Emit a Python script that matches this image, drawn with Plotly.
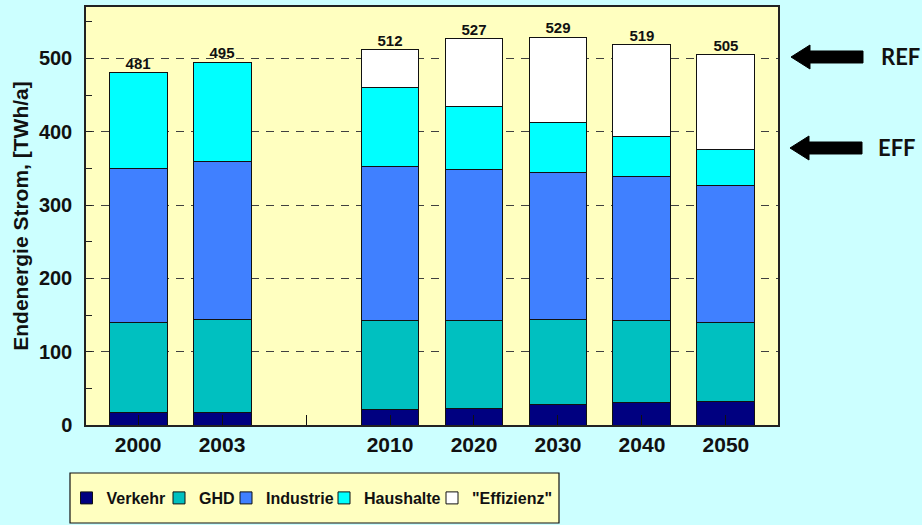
import plotly.graph_objects as go

categories = ["2000", "2003", " ", "2010", "2020", "2030", "2040", "2050"]
verkehr   = [17.0, 17.0, None, 20.5, 23.0, 28.5, 30.5, 32.5]
ghd       = [122.5, 127.5, None, 122.0, 119.0, 115.5, 112.0, 107.5]
industrie = [210.5, 214.5, None, 209.5, 206.0, 200.5, 197.0, 187.0]
haushalte = [131.0, 136.0, None, 108.5, 87.0, 68.5, 54.5, 49.0]
effizienz = [0.0, 0.0, None, 51.5, 92.0, 116.0, 125.0, 129.0]
totals    = [481, 495, None, 512, 527, 529, 519, 505]

series = [
    ("Verkehr", verkehr, "#000080"),
    ("GHD", ghd, "#00c0c0"),
    ("Industrie", industrie, "#4080ff"),
    ("Haushalte", haushalte, "#00ffff"),
    ('"Effizienz"', effizienz, "#ffffff"),
]
# legend symbol centres (pixels) for each series entry
legend_px = [86.5, 179, 246, 344, 452]

W, H = 922, 525
L, R, T, B = 86, 778, 7, 425
FONT = "Liberation Sans, Arial, sans-serif"


def px(x):
    return (x - L) / (R - L)


def py(y):
    return (B - y) / (B - T)


fig = go.Figure()
legend_layouts = {}
for i, (name, vals, col) in enumerate(series):
    lid = "legend" if i == 0 else f"legend{i + 1}"
    fig.add_trace(go.Bar(
        x=categories, y=vals, name=name, width=0.69, legend=lid,
        marker=dict(color=col, line=dict(color="#111111", width=1)),
    ))
    legend_layouts[lid] = dict(
        orientation="h", x=px(legend_px[i] - 20), xanchor="left",
        y=py(498), yanchor="middle",
        bgcolor="rgba(0,0,0,0)", borderwidth=0,
        font=dict(family=FONT, size=16, color="#111111", weight="bold"),
    )

fig.add_trace(go.Scatter(
    x=categories, y=totals, mode="text",
    text=[str(t) if t is not None else "" for t in totals],
    textposition="top center",
    textfont=dict(family=FONT, size=15, color="#111111", weight="bold"),
    showlegend=False, cliponaxis=False, hoverinfo="skip",
))

shapes = []
# legend frame
shapes.append(dict(type="rect", xref="paper", yref="paper",
                   x0=px(70), x1=px(559), y0=py(523), y1=py(473),
                   fillcolor="#ffffc0", line=dict(color="#111111", width=1.2),
                   layer="below"))


def arrow(tip, base, tail, yc, hh, sh):
    pts = [(tip, yc), (base, yc - hh), (base, yc - sh), (tail, yc - sh),
           (tail, yc + sh), (base, yc + sh), (base, yc + hh)]
    p = "M " + " L ".join(f"{px(a):.5f},{py(b):.5f}" for a, b in pts) + " Z"
    return dict(type="path", xref="paper", yref="paper", path=p,
                fillcolor="#000000", line=dict(color="#000000", width=1))


shapes.append(arrow(791, 810, 863, 57, 12, 6))
shapes.append(arrow(790, 809, 862, 148, 12, 6))

annotations = [
    dict(text="<b>REF</b>", xref="paper", yref="paper", x=px(900), y=py(56),
         showarrow=False, xanchor="center", yanchor="middle",
         font=dict(family="Lato, Open Sans, sans-serif", size=22, color="#111111")),
    dict(text="<b>EFF</b>", xref="paper", yref="paper", x=px(897), y=py(147),
         showarrow=False, xanchor="center", yanchor="middle",
         font=dict(family="Lato, Open Sans, sans-serif", size=22, color="#111111")),
]

fig.update_layout(
    width=W, height=H,
    margin=dict(l=L, r=W - R, t=T, b=H - B, pad=0, autoexpand=False),
    paper_bgcolor="#ccffff",
    plot_bgcolor="#ffffc0",
    barmode="stack",
    font=dict(family=FONT, color="#111111"),
    showlegend=True,
    shapes=shapes,
    annotations=annotations,
    **legend_layouts,
)

fig.update_xaxes(
    type="category", categoryorder="array", categoryarray=categories,
    range=[-0.62, 7.62], automargin=False,
    showline=True, mirror=True, linecolor="#222222", linewidth=1.5,
    ticks="inside", ticklen=10, tickcolor="#111111", tickwidth=1,
    showgrid=False,
    tickfont=dict(size=21, weight="bold"),
)
fig.update_yaxes(
    range=[0, 570], tick0=0, dtick=100, automargin=False,
    showline=True, mirror=True, linecolor="#222222", linewidth=1.5,
    ticks="inside", ticklen=6, tickcolor="#222222",
    showgrid=True, gridcolor="#404040", gridwidth=1, griddash="8px,7px",
    zeroline=False,
    minor=dict(dtick=50, ticks="inside", ticklen=6, tickcolor="#222222", showgrid=False),
    tickfont=dict(size=20, weight="bold"),
    ticklabelstandoff=8,
    title=dict(text="Endenergie Strom, [TWh/a]", font=dict(size=21, weight="bold"), standoff=5),
)

fig.write_html("out.html", config={"displayModeBar": False},
               post_script="document.body.style.margin='0';")
